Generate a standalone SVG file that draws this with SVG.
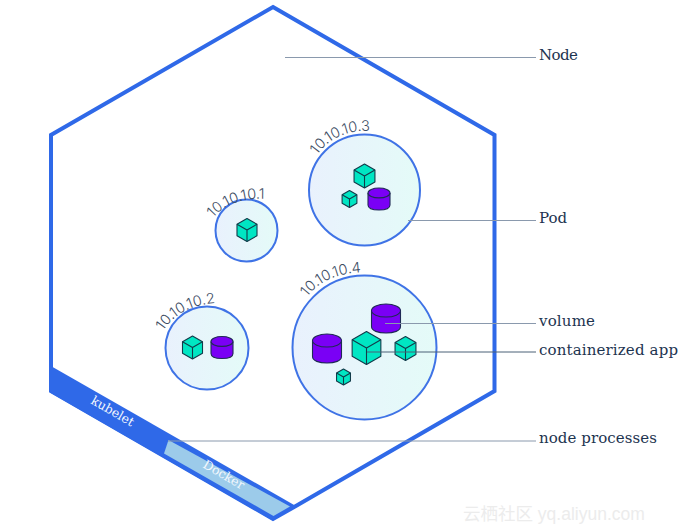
<svg xmlns="http://www.w3.org/2000/svg" width="685" height="524" viewBox="0 0 685 524">
<style>
.lbl{font-family:"DejaVu Serif","Liberation Serif",serif;font-size:15px;fill:#1d3450}
.ip{font-family:"Inter","Open Sans",sans-serif;font-size:14.500px;font-weight:300;fill:#3c4c63}
.pod{fill:url(#podg);stroke:#3f73e6;stroke-width:2}
.ldr{stroke:#8a99ad;stroke-width:1;fill:none}
.ldrd{stroke:#4a6076;stroke-width:1;fill:none}
.w{font-family:"DejaVu Serif","Liberation Serif",serif;font-size:12.500px;fill:#f2f7fd}
.c{fill:#00e6c3;stroke:#123b4a;stroke-width:1.100;stroke-linejoin:round;vector-effect:non-scaling-stroke}
.cl{fill:none;stroke:#123b4a;stroke-width:1.100;stroke-linejoin:round;vector-effect:non-scaling-stroke}
.v{fill:#7a00f5;stroke:#1f2a55;stroke-width:1.100;vector-effect:non-scaling-stroke}
</style>
<defs>
<linearGradient id="podg" x1="0" x2="1" y1="0" y2="0"><stop offset="0" stop-color="#e9f1fd"/><stop offset="1" stop-color="#e4fbf8"/></linearGradient>
<g id="cube"><path class="c" d="M0-1 .87-.5V.5L0 1-.87.5V-.5Z"/><path class="cl" d="M-.87-.5 0 0 .87-.5M0 0V1"/></g>
<g id="vol"><path class="v" d="M-1-.55V.55C-1 .85-.55 1 0 1S1 .85 1 .55V-.55"/><ellipse class="v" cx="0" cy="-.55" rx="1" ry=".45"/></g>
<path id="t1" d="M213 218Q232 196 270 199"/>
<path id="t2" d="M163 331Q181 304 220 303"/>
<path id="t3" d="M317 155Q336 128 377 131"/>
<path id="t4" d="M307 297Q326 272 368 272"/>
</defs>
<rect width="685" height="524" fill="#fff"/>
<g id="node-hexagon">
<path d="M273 7 494.500 135V391L295 506.500 273 519 51 391V135Z" fill="#fff" stroke="#2f69e8" stroke-width="4" stroke-linejoin="miter"/>
<path d="M50 365.500 295 505.500 273 520.500 50 392.500Z" fill="#2f69e8"/>
<path d="M168.500 440 290 506.500 273.500 516 164 453.500Z" fill="#9ccbea"/>
<text class="w" transform="translate(90 403) rotate(30)">kubelet</text>
<text class="w" transform="translate(202 467) rotate(30)">Docker</text>
</g>
<g id="pod-1">
<circle class="pod" cx="246.500" cy="230.500" r="31"/>
<use href="#cube" transform="translate(247 230) scale(11.500)"/>
<text class="ip"><textPath href="#t1">10.10.10.1</textPath></text>
</g>
<g id="pod-2">
<circle class="pod" cx="207" cy="348" r="41.500"/>
<use href="#cube" transform="translate(192.500 347.500) scale(11.500)"/>
<use href="#vol" transform="translate(222 347.500) scale(11)"/>
<text class="ip"><textPath href="#t2">10.10.10.2</textPath></text>
</g>
<g id="pod-3">
<circle class="pod" cx="364.500" cy="190" r="55.500"/>
<use href="#cube" transform="translate(364.500 176) scale(12)"/>
<use href="#cube" transform="translate(349.500 199) scale(8.500)"/>
<use href="#vol" transform="translate(379 199) scale(11)"/>
<text class="ip"><textPath href="#t3">10.10.10.3</textPath></text>
</g>
<g id="pod-4">
<circle class="pod" cx="364.500" cy="347.500" r="72"/>
<use href="#vol" transform="translate(386 318.500) scale(14.500)"/>
<use href="#vol" transform="translate(327 348.500) scale(14.500)"/>
<use href="#cube" transform="translate(366.500 348) scale(16.500)"/>
<use href="#cube" transform="translate(405.500 348.500) scale(12)"/>
<use href="#cube" transform="translate(343.500 377) scale(8)"/>
<text class="ip"><textPath href="#t4">10.10.10.4</textPath></text>
</g>
<g id="connectors">
<path class="ldr" d="M285 57.500H536"/>
<path class="ldr" d="M408 220.500H536"/>
<path class="ldr" d="M385 323.500H536"/>
<path class="ldrd" d="M367 352H536"/>
<path class="ldr" d="M168 441H536"/>
</g>
<g id="labels">
<text class="lbl" x="539" y="60" textLength="39">Node</text>
<text class="lbl" x="539" y="223" textLength="28">Pod</text>
<text class="lbl" x="539" y="326" textLength="56">volume</text>
<text class="lbl" x="539" y="355" textLength="139">containerized app</text>
<text class="lbl" x="539" y="443" textLength="118">node processes</text>
</g>
<text x="463" y="520" font-family="'Liberation Sans','Noto Sans CJK SC',sans-serif" font-size="17.500" fill="#ececec">云栖社区 yq.aliyun.com</text>
</svg>
